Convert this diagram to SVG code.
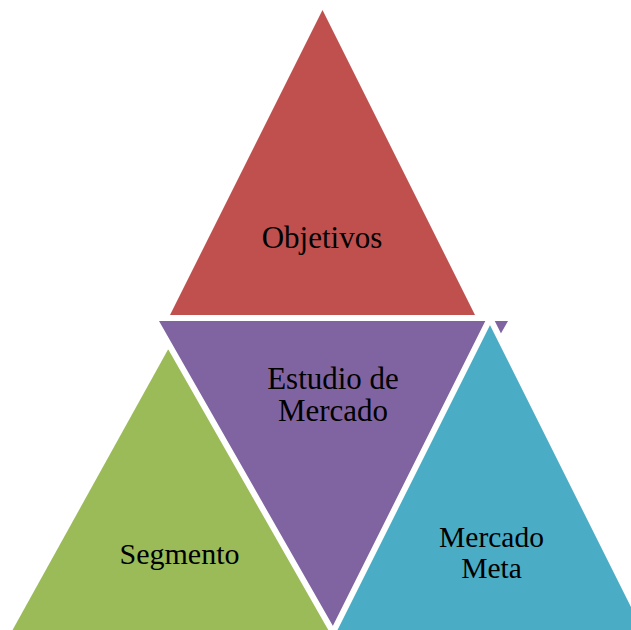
<svg xmlns="http://www.w3.org/2000/svg" width="631" height="630" viewBox="0 0 631 630">
<style>
.lbl{font-family:"Liberation Serif","Times New Roman",serif;fill:#000;text-anchor:middle}
.edge{stroke:#fff;stroke-width:6;stroke-linejoin:miter}
</style>
<rect width="631" height="630" fill="#fff"/>
<g id="objetivos">
<polygon points="322.5,10 169.5,316 475.5,316" fill="#C0504D"/>
<text class="lbl" x="322" y="248" font-size="31">Objetivos</text>
</g>
<g id="segmento">
<polygon points="168.3,349 7,640 360,640" fill="#9BBB59"/>
<text class="lbl" x="179.5" y="564" font-size="30">Segmento</text>
</g>
<g id="estudio">
<polygon class="edge" points="153.84,318.04 513.16,318.04 333.5,633.06" fill="#8064A2"/>
<text class="lbl" x="333" y="389" font-size="31">Estudio de</text>
<text class="lbl" x="333" y="421" font-size="31">Mercado</text>
</g>
<g id="mercado-meta">
<polygon class="edge" points="490,318.3 326.65,645 653.35,645" fill="#4BACC6"/>
<text class="lbl" x="491.5" y="547" font-size="29.5">Mercado</text>
<text class="lbl" x="491.5" y="578" font-size="29.5">Meta</text>
</g>
<g id="connectors"></g>
</svg>
